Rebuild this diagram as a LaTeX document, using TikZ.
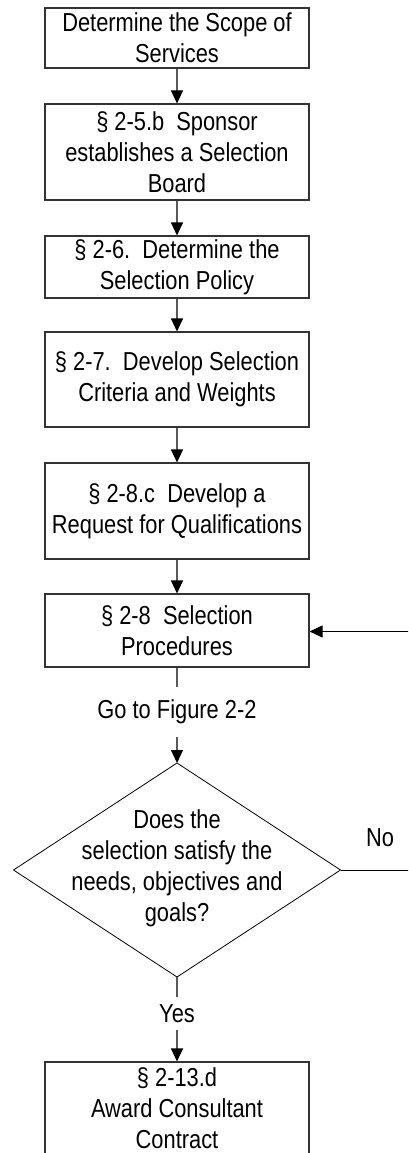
\documentclass[tikz,border=0pt]{standalone}
\usepackage{fontspec}
\setmainfont[FakeStretch=0.84]{Liberation Sans}
\usetikzlibrary{arrows.meta,shapes.geometric}
\tikzset{
  stepbox/.style={draw=black!80, line width=1.1pt, minimum width=264pt, inner sep=0pt, align=center,
    font=\fontsize{26}{31}\selectfont},
  conn/.style={draw=black!65, line width=1.1pt},
  arr/.style={conn, -{Triangle[length=13pt,width=12pt,black]}},
  lbl/.style={inner sep=0pt, align=center, font=\fontsize{26}{31}\selectfont},
  decision/.style={draw=black, line width=0.8pt, diamond, minimum width=327pt, minimum height=214pt,
    inner sep=0pt, outer sep=0pt}
}
\begin{document}
\begin{tikzpicture}[x=1pt,y=1pt]
\useasboundingbox (0,0) rectangle (408,-1153);
\clip (0,0) rectangle (408,-1153);
\node[stepbox, minimum height=60pt] (b1) at (177,-38) {Determine the Scope of\\Services};
\node[stepbox, minimum height=96pt] (b2) at (177,-152) {§ 2-5.b\ \ Sponsor\\establishes a Selection\\Board};
\node[stepbox, minimum height=62pt] (b3) at (177,-267) {§ 2-6.\ \ Determine the\\Selection Policy};
\node[stepbox, minimum height=95pt] (b4) at (177,-379.5) {§ 2-7.\ \ Develop Selection\\Criteria and Weights};
\node[stepbox, minimum height=96pt] (b5) at (177,-511) {§ 2-8.c\ \ Develop a\\Request for Qualifications};
\node[stepbox, minimum height=73pt] (b6) at (177,-630.5) {§ 2-8\ \ Selection\\Procedures};
\node[lbl, minimum height=50pt] (goto) at (177,-712) {Go to Figure 2-2};
\node[decision] (d) at (177,-870) {};
\node[lbl] (dtext) at (177,-868) {Does the\\selection satisfy the\\needs, objectives and\\goals?};
\node[lbl, minimum height=33pt] (yes) at (177,-1013.5) {Yes};
\node[stepbox, minimum height=92pt] (b7) at (177,-1108) {§ 2-13.d\\Award Consultant\\Contract};
\node[lbl] (no) at (380,-838) {No};
\coordinate (r1) at (414,-870);
\coordinate (r2) at (414,-631.5);

\draw[arr] (b1) -- (b2);
\draw[arr] (b2) -- (b3);
\draw[arr] (b3) -- (b4);
\draw[arr] (b4) -- (b5);
\draw[arr] (b5) -- (b6);
\draw[conn] (b6) -- (goto);
\draw[arr] (goto.south) -- (d.north);
\draw[conn] (d.south) -- (yes.north);
\draw[arr] (yes.south) -- (b7.north);
\draw[black, line width=0.8pt] (d.east) -- (r1) -- (r2);
\draw[black, line width=0.8pt, -{Triangle[length=13pt,width=12pt]}] (r2) -- (b6.east |- r2);
\end{tikzpicture}
\end{document}
